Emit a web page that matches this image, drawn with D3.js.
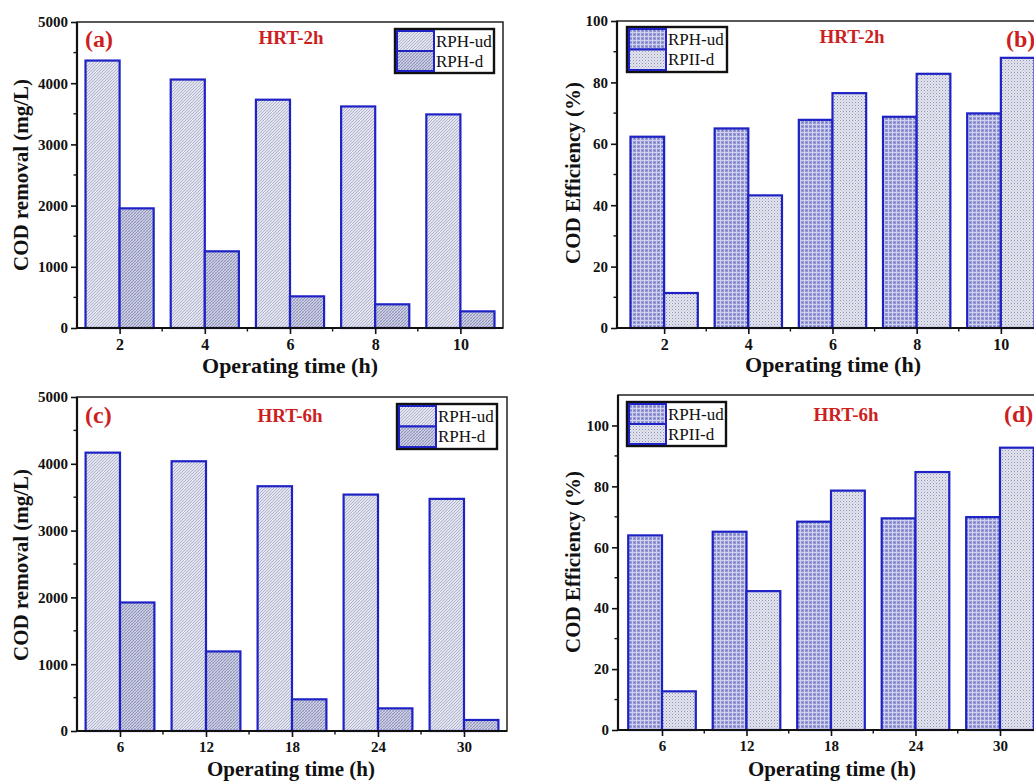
<!DOCTYPE html>
<html>
<head>
<meta charset="utf-8">
<script src="https://cdn.jsdelivr.net/npm/d3@7"></script>
<style>
  html, body { margin: 0; padding: 0; background: #fff; }
  svg { display: block; font-family: "Liberation Serif", "Times New Roman", serif; }
</style>
</head>
<body>
<svg id="chart" width="1034" height="781"></svg>
<script>
// ---- Data ----
const timesA = [2, 4, 6, 8, 10];
const removalUdA = [4370, 4060, 3730, 3620, 3490];
const removalDA = [1955, 1253, 517, 387, 272];

const timesB = [2, 4, 6, 8, 10];
const effUdB = [62.3, 65.0, 67.8, 68.8, 69.9];
const effDB = [11.4, 43.2, 76.5, 82.8, 88.0];

const timesC = [6, 12, 18, 24, 30];
const removalUdC = [4167, 4038, 3664, 3539, 3475];
const removalDC = [1924, 1191, 474, 339, 165];

const timesD = [6, 12, 18, 24, 30];
const effUdD = [63.9, 65.1, 68.4, 69.5, 69.9];
const effDD = [12.7, 45.6, 78.6, 84.7, 92.7];

const removalTicks = [0, 1000, 2000, 3000, 4000, 5000];
const effTicks = [0, 20, 40, 60, 80, 100];

const svg = d3.select("#chart");
const defs = svg.append("defs");

// ---- Patterns ----
function patDiag(id, bg, fg, s, w) {
  const p = defs.append("pattern").attr("id", id).attr("patternUnits", "userSpaceOnUse")
    .attr("width", s).attr("height", s);
  p.append("rect").attr("width", s).attr("height", s).attr("fill", bg);
  p.append("path").attr("d", `M0,${s} L${s},0 M${-s/2},${s/2} L${s/2},${-s/2} M${s/2},${s*1.5} L${s*1.5},${s/2}`)
    .attr("stroke", fg).attr("stroke-width", w);
}
function patCross(id, bg, fg, s, w) {
  const p = defs.append("pattern").attr("id", id).attr("patternUnits", "userSpaceOnUse")
    .attr("width", s).attr("height", s);
  p.append("rect").attr("width", s).attr("height", s).attr("fill", bg);
  p.append("path").attr("d", `M0,${s} L${s},0 M${-s/2},${s/2} L${s/2},${-s/2} M${s/2},${s*1.5} L${s*1.5},${s/2}`)
    .attr("stroke", fg).attr("stroke-width", w);
  p.append("path").attr("d", `M0,0 L${s},${s} M${-s/2},${s/2} L${s/2},${s*1.5} M${s/2},${-s/2} L${s*1.5},${s/2}`)
    .attr("stroke", fg).attr("stroke-width", w * 0.7).attr("opacity", 0.6);
}
function patGrid(id, bg, fg, s) {
  const p = defs.append("pattern").attr("id", id).attr("patternUnits", "userSpaceOnUse")
    .attr("width", s).attr("height", s);
  p.append("rect").attr("width", s).attr("height", s).attr("fill", bg);
  p.append("path").attr("d", `M0,0.5 L${s},0.5 M0.5,0 L0.5,${s}`).attr("stroke", fg).attr("stroke-width", 1);
  p.append("rect").attr("x", 2).attr("y", 2).attr("width", 1).attr("height", 1).attr("fill", "#6a70bc");
}
function patDots(id, bg, fg) {
  const p = defs.append("pattern").attr("id", id).attr("patternUnits", "userSpaceOnUse")
    .attr("width", 3).attr("height", 3);
  p.append("rect").attr("width", 3).attr("height", 3).attr("fill", bg);
  p.append("rect").attr("x", 0).attr("y", 0).attr("width", 1).attr("height", 1).attr("fill", fg);
  p.append("rect").attr("x", 1.5).attr("y", 1.5).attr("width", 1).attr("height", 1).attr("fill", fg).attr("opacity", 0.6);
}
patDiag("pDiag", "#e3e4ee", "#a3a7c6", 3, 0.8);
patCross("pCross", "#cdd0e3", "#8489b4", 3, 0.8);
patGrid("pGrid", "#9699d4", "#cfd1ee", 4);
patDots("pDots", "#e3e4ed", "#9094b6");

const BAR_BLUE = "#1e22c4";
const RED = "#cc1f1f";

function drawPanel(cfg) {
  const g = svg.append("g");
  const x = d3.scaleLinear().domain(cfg.xDomain).range([cfg.left, cfg.right]);
  const y = d3.scaleLinear().domain(cfg.yDomain).range([cfg.bottom, cfg.top]);
  const step = cfg.times[1] - cfg.times[0];
  const bw = x(cfg.times[0] + 0.4 * step) - x(cfg.times[0]);

  // frame (top/right)
  g.append("rect").attr("x", cfg.left).attr("y", cfg.top)
    .attr("width", cfg.right - cfg.left).attr("height", cfg.bottom - cfg.top)
    .attr("fill", "none").attr("stroke", "#222").attr("stroke-width", 1.5);

  // bars
  const rows = cfg.times.map((t, i) => ({ t, ud: cfg.ud[i], d: cfg.d[i] }));
  g.selectAll(".ud").data(rows).join("rect")
    .attr("x", r => x(r.t) - bw).attr("width", bw)
    .attr("y", r => y(r.ud)).attr("height", r => y(0) - y(r.ud))
    .attr("fill", `url(#${cfg.fillUd})`).attr("stroke", BAR_BLUE).attr("stroke-width", 2.2);
  g.selectAll(".dd").data(rows).join("rect")
    .attr("x", r => x(r.t)).attr("width", bw)
    .attr("y", r => y(r.d)).attr("height", r => y(0) - y(r.d))
    .attr("fill", `url(#${cfg.fillD})`).attr("stroke", BAR_BLUE).attr("stroke-width", 2.2);

  // y axis
  const yAx = g.append("g").attr("transform", `translate(${cfg.left},0)`)
    .call(d3.axisLeft(y).tickValues(cfg.yTicks).tickFormat(d3.format("d")).tickSize(6).tickPadding(3).tickSizeOuter(0));
  yAx.select(".domain").remove();
  yAx.selectAll("text").attr("font-size", 15).attr("font-weight", "bold").attr("fill", "#111")
    .style("font-family", "Liberation Serif");
  yAx.selectAll("line").attr("stroke", "#111").attr("stroke-width", 1.6);
  const yMinor = d3.range(cfg.yDomain[0], cfg.yDomain[1] + 1e-9, cfg.yMinorStep)
    .filter(v => !cfg.yTicks.includes(v) && v > cfg.yDomain[0] && v < cfg.yDomain[1]);
  g.selectAll(".ymin").data(yMinor).join("line")
    .attr("x1", cfg.left - 3.5).attr("x2", cfg.left).attr("y1", v => y(v)).attr("y2", v => y(v))
    .attr("stroke", "#111").attr("stroke-width", 1.4);

  // x axis
  const xAx = g.append("g").attr("transform", `translate(0,${cfg.bottom})`)
    .call(d3.axisBottom(x).tickValues(cfg.times).tickFormat(d3.format("d")).tickSize(6).tickPadding(cfg.xPad).tickSizeOuter(0));
  xAx.select(".domain").remove();
  xAx.selectAll("text").attr("font-size", cfg.xTickFont).attr("font-weight", "bold").attr("fill", "#111")
    .style("font-family", "Liberation Serif");
  xAx.selectAll("line").attr("stroke", "#111").attr("stroke-width", 1.6);
  const xMinor = cfg.times.map(t => t + step / 2).filter(v => x(v) < cfg.right - 2);
  g.selectAll(".xmin").data(xMinor).join("line")
    .attr("x1", v => x(v)).attr("x2", v => x(v)).attr("y1", cfg.bottom).attr("y2", cfg.bottom + 3.5)
    .attr("stroke", "#111").attr("stroke-width", 1.4);

  // axis lines (thicker left/bottom)
  g.append("line").attr("x1", cfg.left).attr("x2", cfg.left).attr("y1", cfg.top).attr("y2", cfg.bottom + 1)
    .attr("stroke", "#111").attr("stroke-width", 2.2);
  g.append("line").attr("x1", cfg.left - 1).attr("x2", cfg.right).attr("y1", cfg.bottom).attr("y2", cfg.bottom)
    .attr("stroke", "#111").attr("stroke-width", 2.2);

  // axis titles
  g.append("text").attr("x", cfg.xTitleX).attr("y", cfg.xTitleY)
    .attr("text-anchor", "middle").attr("font-size", cfg.xTitleFont).attr("font-weight", "bold").attr("fill", "#111")
    .text("Operating time (h)");
  g.append("text").attr("transform", `translate(${cfg.yTitleX},${cfg.yTitleCy}) rotate(-90)`)
    .attr("text-anchor", "middle").attr("font-size", 21).attr("font-weight", "bold").attr("fill", "#111")
    .text(cfg.yTitle);

  // panel label and HRT title
  g.append("text").attr("x", cfg.labelX).attr("y", cfg.labelY).attr("font-size", 24)
    .attr("font-weight", "bold").attr("fill", RED).text(cfg.label);
  g.append("text").attr("x", cfg.hrtX).attr("y", cfg.hrtY).attr("text-anchor", "middle")
    .attr("font-size", 19).attr("font-weight", "bold").attr("fill", RED).text(cfg.hrt);

  // legend
  const L = cfg.legend;
  const lg = g.append("g");
  lg.append("rect").attr("x", L.x).attr("y", L.y).attr("width", L.w).attr("height", L.h)
    .attr("fill", "#fff").attr("stroke", "#111").attr("stroke-width", 2.4);
  const items = [
    { fill: cfg.fillUd, name: cfg.names[0] },
    { fill: cfg.fillD, name: cfg.names[1] }
  ];
  const rowH = (L.h - 4) / 2;
  items.forEach((it, i) => {
    lg.append("rect").attr("x", L.x + 2).attr("y", L.y + 2 + i * rowH).attr("width", 37).attr("height", rowH)
      .attr("fill", `url(#${it.fill})`).attr("stroke", BAR_BLUE).attr("stroke-width", 2);
    lg.append("text").attr("x", L.x + 41).attr("y", L.y + 2 + i * rowH + rowH / 2 + 5.5)
      .attr("font-size", 17).attr("fill", "#111").text(it.name);
  });
}

drawPanel({
  times: timesA, ud: removalUdA, d: removalDA,
  left: 77, right: 503, top: 22, bottom: 328,
  xDomain: [1, 11], yDomain: [0, 5000], yTicks: removalTicks, yMinorStep: 500,
  fillUd: "pDiag", fillD: "pCross", xPad: 5, xTickFont: 16, xTitleFont: 22,
  yTitle: "COD removal (mg/L)", yTitleX: 28, yTitleCy: 175,
  xTitleX: 290, xTitleY: 373,
  label: "(a)", labelX: 85, labelY: 47, hrt: "HRT-2h", hrtX: 291, hrtY: 44,
  names: ["RPH-ud", "RPH-d"],
  legend: { x: 395, y: 29, w: 99, h: 44 }
});

drawPanel({
  times: timesB, ud: effUdB, d: effDB,
  left: 617, right: 1048, top: 21, bottom: 328,
  xDomain: [0.88, 11.12], yDomain: [0, 100], yTicks: effTicks, yMinorStep: 10,
  fillUd: "pGrid", fillD: "pDots", xPad: 5, xTickFont: 16, xTitleFont: 22,
  yTitle: "COD Efficiency (%)", yTitleX: 580, yTitleCy: 173,
  xTitleX: 833, xTitleY: 372,
  label: "(b)", labelX: 1006, labelY: 47, hrt: "HRT-2h", hrtX: 852, hrtY: 43,
  names: ["RPH-ud", "RPII-d"],
  legend: { x: 627, y: 27, w: 100, h: 45 }
});

drawPanel({
  times: timesC, ud: removalUdC, d: removalDC,
  left: 77, right: 507, top: 397, bottom: 731,
  xDomain: [3, 33], yDomain: [0, 5000], yTicks: removalTicks, yMinorStep: 500,
  fillUd: "pDiag", fillD: "pCross", xPad: 4, xTickFont: 15, xTitleFont: 21,
  yTitle: "COD removal (mg/L)", yTitleX: 28, yTitleCy: 565,
  xTitleX: 291, xTitleY: 776,
  label: "(c)", labelX: 85, labelY: 423, hrt: "HRT-6h", hrtX: 290, hrtY: 422,
  names: ["RPH-ud", "RPH-d"],
  legend: { x: 397, y: 404, w: 100, h: 45 }
});

drawPanel({
  times: timesD, ud: effUdD, d: effDD,
  left: 618, right: 1044, top: 395, bottom: 730,
  xDomain: [2.875, 33.125], yDomain: [0, 110], yTicks: effTicks, yMinorStep: 10,
  fillUd: "pGrid", fillD: "pDots", xPad: 4, xTickFont: 15, xTitleFont: 21,
  yTitle: "COD Efficiency (%)", yTitleX: 580, yTitleCy: 562,
  xTitleX: 832, xTitleY: 776,
  label: "(d)", labelX: 1004, labelY: 422, hrt: "HRT-6h", hrtX: 846, hrtY: 421,
  names: ["RPH-ud", "RPII-d"],
  legend: { x: 627, y: 402, w: 99, h: 44 }
});
</script>
</body>
</html>
